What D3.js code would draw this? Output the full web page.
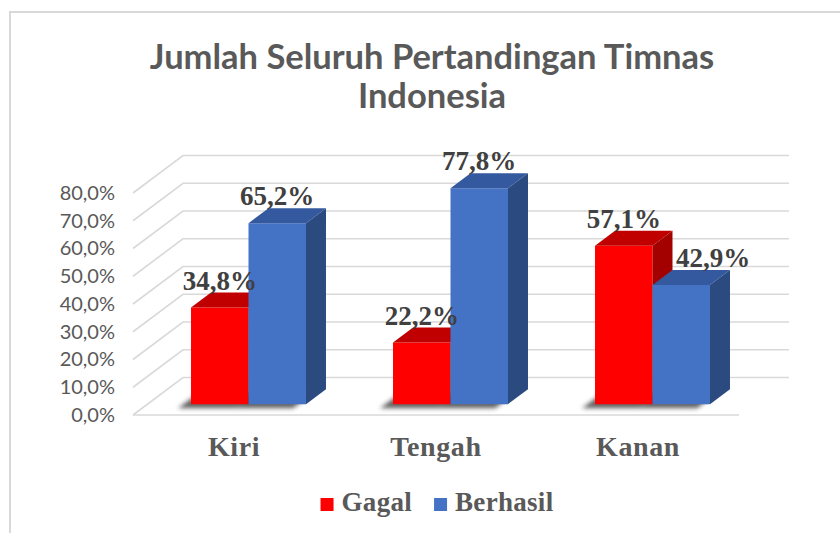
<!DOCTYPE html>
<html>
<head>
<meta charset="utf-8">
<script src="https://cdn.jsdelivr.net/npm/d3@7"></script>
<style>
  body { margin: 0; background: #fff; }
  svg { display: block; }
</style>
</head>
<body>
<script>
// data
let categories = ["Kiri", "Tengah", "Kanan"];
let series = ["Gagal", "Berhasil"];
let gagal = [34.8, 22.2, 57.1];
let berhasil = [65.2, 77.8, 42.9];
let yTicks = [0, 10, 20, 30, 40, 50, 60, 70, 80];
let colors = {
    Gagal: { front: "#ff0000", top: "#c00000", side: "#a30000" },
    Berhasil: { front: "#4472c4", top: "#34599e", side: "#2b4a80" }
};

function fmt(v) {
    return v.toFixed(1).replace(".", ",") + "%";
}

function main() {
    let width = 840;
    let height = 533;

    let svg = d3.select("body").append("svg")
        .attr("width", width)
        .attr("height", height);

    let defs = svg.append("defs");
    defs.append("filter")
        .attr("id", "shadow")
        .attr("x", "-50%").attr("y", "-50%")
        .attr("width", "200%").attr("height", "200%")
        .append("feGaussianBlur")
        .attr("stdDeviation", 2.2);

    // chart border
    svg.append("rect")
        .attr("x", 10).attr("y", 12)
        .attr("width", 860).attr("height", 560)
        .attr("fill", "none")
        .attr("stroke", "#d9d9d9")
        .attr("stroke-width", 2);

    // title
    let title = svg.append("text")
        .attr("text-anchor", "middle")
        .attr("font-family", "Lato, sans-serif")
        .attr("font-weight", "bold")
        .attr("font-size", 34.5)
        .attr("fill", "#595959");
    title.append("tspan").attr("x", 432).attr("y", 69).text("Jumlah Seluruh Pertandingan Timnas");
    title.append("tspan").attr("x", 432).attr("y", 108).text("Indonesia");

    // 3d frame: front floor edge and depth offset
    let floorY = 415;
    let depthX = 50, depthY = 37.5;

    let xScale = d3.scaleBand().domain(categories).range([133, 739]);
    let xSeries = d3.scaleBand().domain(series)
        .range([0, xScale.bandwidth()])
        .paddingInner(0)
        .paddingOuter(0.757);
    let yScale = d3.scaleLinear().domain([0, 80]).range([0, 222]);

    function pt(x, d, v) {
        return [x + d * depthX, floorY - d * depthY - yScale(v)];
    }

    // gridlines: left wall slants + back wall
    let grid = svg.append("g")
        .attr("stroke", "#d9d9d9")
        .attr("stroke-width", 1.6)
        .attr("fill", "none");
    let x0 = xScale.range()[0], x1 = xScale.range()[1];
    grid.selectAll("path")
        .data(yTicks)
        .enter()
        .append("path")
        .attr("d", function(v) {
            let a = pt(x0, 0, v), b = pt(x0, 1, v), c = pt(x1, 1, v);
            return "M" + a + "L" + b + "L" + c;
        });
    grid.append("path")
        .attr("d", "M" + pt(x0, 0, 0) + "L" + pt(x1, 0, 0));

    // y axis labels
    let yAxisScale = d3.scaleLinear().domain([0, 80]).range([floorY, floorY - yScale(80)]);
    let axis = svg.append("g")
        .attr("transform", "translate(" + (x0 - 14) + ",0)")
        .call(d3.axisLeft(yAxisScale).tickValues(yTicks).tickSize(0).tickPadding(4).tickFormat(fmt));
    axis.select(".domain").remove();
    axis.selectAll("text")
        .attr("font-family", "Lato, sans-serif")
        .attr("font-size", 20)
        .attr("fill", "#595959");

    // bars
    let d0 = 0.29, d1 = 0.69;
    let rows = [];
    categories.forEach(function(c, i) {
        rows.push({ cat: c, ser: "Gagal", value: gagal[i] });
        rows.push({ cat: c, ser: "Berhasil", value: berhasil[i] });
    });

    function poly(points) {
        return points.map(function(p) { return p.join(","); }).join(" ");
    }

    let shadows = svg.append("g").attr("filter", "url(#shadow)");
    let bars = svg.append("g");

    rows.forEach(function(r) {
        let left = xScale(r.cat) + xSeries(r.ser);
        let right = left + xSeries.bandwidth();
        let col = colors[r.ser];

        let s = [pt(left, d0, 0), pt(right, d0, 0), pt(right, d1, 0), pt(left, d1, 0)]
            .map(function(p) { return [p[0] - 13, p[1] + 4]; });
        shadows.append("polygon")
            .attr("points", poly(s))
            .attr("fill", "#333")
            .attr("opacity", 0.75);

        let g = bars.append("g");
        g.append("polygon")
            .attr("points", poly([pt(left, d0, 0), pt(right, d0, 0), pt(right, d0, r.value), pt(left, d0, r.value)]))
            .attr("fill", col.front);
        g.append("polygon")
            .attr("points", poly([pt(left, d0, r.value), pt(right, d0, r.value), pt(right, d1, r.value), pt(left, d1, r.value)]))
            .attr("fill", col.top);
        g.append("polygon")
            .attr("points", poly([pt(right, d0, 0), pt(right, d1, 0), pt(right, d1, r.value), pt(right, d0, r.value)]))
            .attr("fill", col.side);
    });

    // data labels
    let labels = svg.append("g")
        .attr("font-family", "'Liberation Serif', 'Times New Roman', serif")
        .attr("font-weight", "bold")
        .attr("font-size", 27)
        .attr("fill", "#404040")
        .attr("text-anchor", "middle");
    rows.forEach(function(r, i) {
        let left = xScale(r.cat) + xSeries(r.ser);
        let p = pt(left + xSeries.bandwidth() / 2, d0, r.value);
        let dx = 0;
        // nudge second label right when it sits close below the first
        if (r.ser === "Berhasil") {
            let other = rows[i - 1].value;
            if (other > r.value && other - r.value < 20) dx = 32;
        }
        labels.append("text")
            .attr("x", p[0] + dx)
            .attr("y", p[1] - 18)
            .text(fmt(r.value));
    });

    // category labels
    svg.append("g")
        .attr("font-family", "'Liberation Serif', 'Times New Roman', serif")
        .attr("font-weight", "bold")
        .attr("font-size", 28)
        .attr("letter-spacing", 0.6)
        .attr("fill", "#595959")
        .attr("text-anchor", "middle")
        .selectAll("text")
        .data(categories)
        .enter()
        .append("text")
        .attr("x", function(d) { return xScale(d) + xScale.bandwidth() / 2; })
        .attr("y", 456)
        .text(function(d) { return d; });

    // legend
    let legend = svg.append("g")
        .attr("font-family", "'Liberation Serif', 'Times New Roman', serif")
        .attr("font-weight", "bold")
        .attr("font-size", 27)
        .attr("letter-spacing", 0.3)
        .attr("fill", "#595959");
    let lx = 0;
    series.forEach(function(s) {
        let g = legend.append("g").attr("transform", "translate(" + lx + ",0)");
        g.append("rect")
            .attr("x", 0).attr("y", 498)
            .attr("width", 13).attr("height", 13)
            .attr("fill", colors[s].front);
        let t = g.append("text")
            .attr("x", 21).attr("y", 511)
            .text(s);
        lx += 21 + t.node().getComputedTextLength() + 22;
    });
    let total = lx - 22;
    legend.attr("transform", "translate(" + (437 - total / 2) + ",0)");
}

main();
</script>
</body>
</html>
